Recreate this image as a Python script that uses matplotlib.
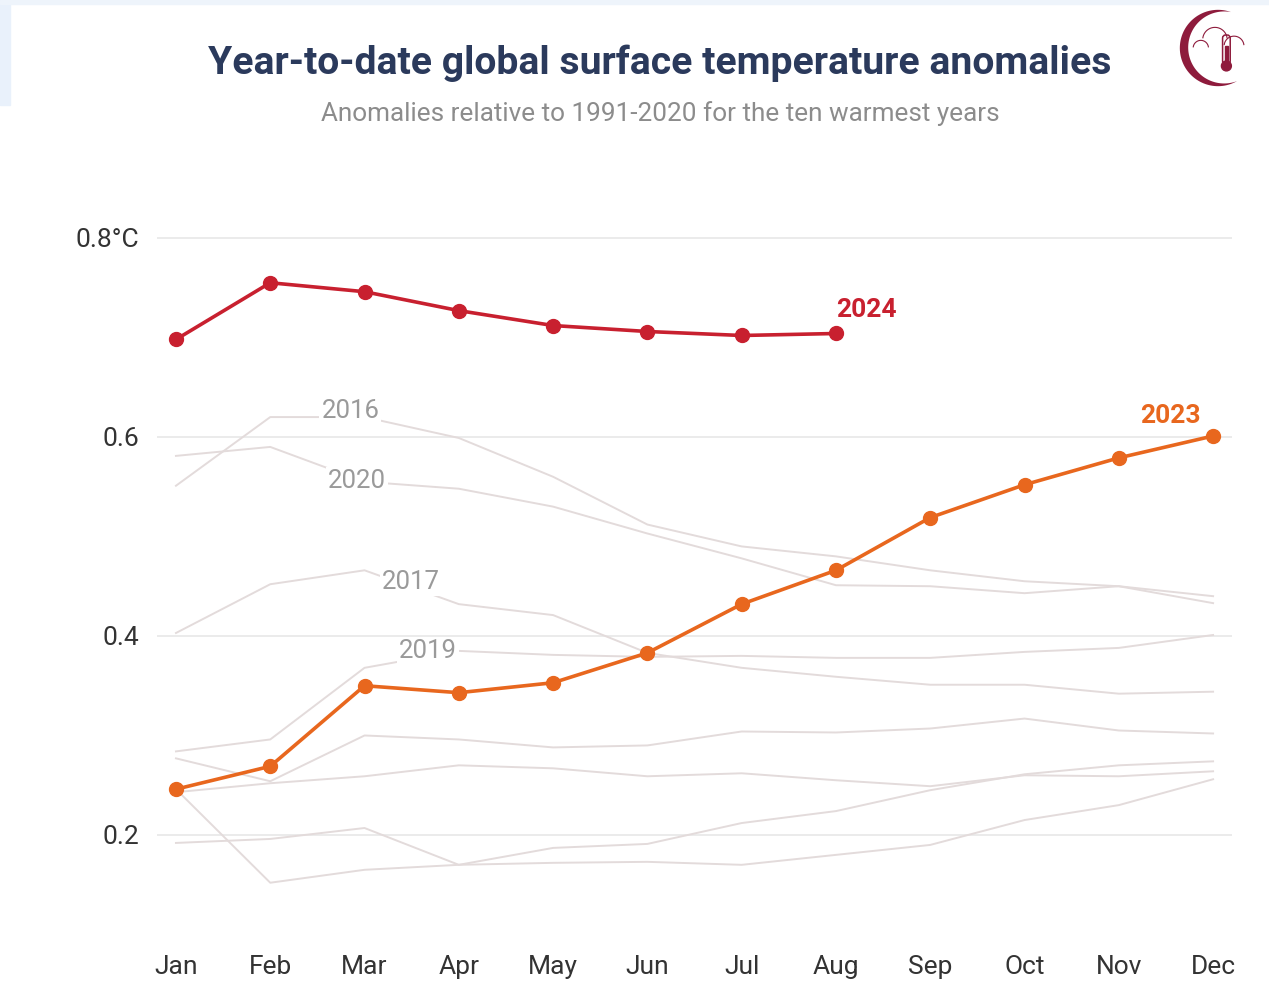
import numpy as np
import matplotlib.pyplot as plt
from matplotlib.patches import Polygon, Circle, FancyBboxPatch, Rectangle

# months and monthly year-to-date anomalies (degC, vs 1991-2020)
months = ["Jan", "Feb", "Mar", "Apr", "May", "Jun",
          "Jul", "Aug", "Sep", "Oct", "Nov", "Dec"]

y2024 = [0.698, 0.755, 0.746, 0.727, 0.712, 0.706, 0.702, 0.704]
y2023 = [0.246, 0.269, 0.350, 0.343, 0.353, 0.383,
         0.432, 0.466, 0.519, 0.552, 0.579, 0.601]

y2016 = [0.551, 0.620, 0.620, 0.599, 0.560, 0.512,
         0.490, 0.480, 0.466, 0.455, 0.450, 0.440]
y2020 = [0.581, 0.590, 0.555, 0.548, 0.530, 0.503,
         0.478, 0.451, 0.450, 0.443, 0.450, 0.433]
y2017 = [0.403, 0.452, 0.466, 0.432, 0.421, 0.383,
         0.368, 0.359, 0.351, 0.351, 0.342, 0.344]
y2019 = [0.284, 0.296, 0.368, 0.385, 0.381, 0.379,
         0.380, 0.378, 0.378, 0.384, 0.388, 0.401]
# remaining warm years, unlabelled
other_a = [0.277, 0.254, 0.300, 0.296, 0.288, 0.290,
           0.304, 0.303, 0.307, 0.317, 0.305, 0.302]
other_b = [0.243, 0.252, 0.259, 0.270, 0.267, 0.259,
           0.262, 0.255, 0.249, 0.260, 0.259, 0.264]
other_c = [0.192, 0.196, 0.207, 0.170, 0.187, 0.191,
           0.212, 0.224, 0.245, 0.261, 0.270, 0.274]
other_d = [0.246, 0.152, 0.165, 0.170, 0.172, 0.173,
           0.170, 0.180, 0.190, 0.215, 0.230, 0.256]

grey_years = [y2016, y2020, y2017, y2019, other_a, other_b, other_c, other_d]
grey_labels = {"2016": (1.85, 0.626), "2020": (1.92, 0.556),
               "2017": (2.49, 0.454), "2019": (2.67, 0.385)}

yticks = [0.2, 0.4, 0.6, 0.8]
ytick_labels = ["0.2", "0.4", "0.6", "0.8°C"]

FONT = ["Roboto", "DejaVu Sans"]
RED = "#c8202f"
ORANGE = "#e8671e"
GREY = "#e3dbdb"

fig = plt.figure(figsize=(12.69, 9.85), dpi=100)
fig.patch.set_facecolor("white")

# faint blue frame left over at the screenshot edge
fig.patches.append(Rectangle((0, 1 - 105 / 985), 10 / 1269, 105 / 985,
                             transform=fig.transFigure, color="#e9f1fb", zorder=0))
fig.patches.append(Rectangle((0, 1 - 4 / 985), 1, 4 / 985,
                             transform=fig.transFigure, color="#eef4fb", zorder=0))

ax = fig.add_axes([0.1238, 0.0715, 0.847, 0.7071])
x = np.arange(len(months))

for g in grey_years:
    ax.plot(x, g, color=GREY, lw=1.4, zorder=1)

for name, (lx, ly) in grey_labels.items():
    ax.text(lx, ly, name, color="#9a9a9a", fontsize=18.5, family=FONT,
            ha="center", va="center", zorder=2,
            bbox=dict(facecolor="white", edgecolor="none", pad=1.5))

ax.plot(x, y2023, color=ORANGE, lw=2.6, marker="o", ms=10, zorder=4)
ax.plot(x[:len(y2024)], y2024, color=RED, lw=2.6, marker="o", ms=10, zorder=4)

ax.text(len(y2024) - 1, y2024[-1] + 0.024, "2024", color=RED, fontsize=19,
        fontweight="bold", family=FONT, ha="left", va="center")
ax.text(len(y2023) - 1 - 0.13, y2023[-1] + 0.020, "2023", color=ORANGE, fontsize=19,
        fontweight="bold", family=FONT, ha="right", va="center")

ax.set_xlim(-0.2, 11.2)
ax.set_ylim(0.12, 0.82)
ax.set_yticks(yticks)
ax.set_yticklabels(ytick_labels)
ax.set_xticks(x)
ax.set_xticklabels(months)
ax.grid(axis="y", color="#e8e8e8", lw=1.2)
ax.set_axisbelow(True)
for s in ax.spines.values():
    s.set_visible(False)
ax.tick_params(axis="both", length=0, labelsize=19, labelcolor="#333333")
ax.tick_params(axis="x", pad=29)
ax.tick_params(axis="y", pad=13)
for lab in ax.get_xticklabels() + ax.get_yticklabels():
    lab.set_family(FONT)

fig.text(0.520, 0.936, "Year-to-date global surface temperature anomalies",
         ha="center", va="center", fontsize=28.2, fontweight="bold",
         color="#2b3a5c", family=FONT)
fig.text(0.520, 0.885, "Anomalies relative to 1991-2020 for the ten warmest years",
         ha="center", va="center", fontsize=18.8, color="#8c8c8c", family=FONT)

# small logo: crescent, cloud and thermometer
lg = fig.add_axes([1176 / 1269, 1 - 90 / 985, 84 / 1269, 84 / 985])
lg.set_xlim(-1.1, 1.1)
lg.set_ylim(-1.1, 1.1)
lg.set_aspect("equal")
lg.axis("off")
LOGO = "#8e1b3c"
c, r2, rot = 0.163, 0.943, np.deg2rad(5)
xi = (1 + c ** 2 - r2 ** 2) / (2 * c)
a0 = np.arccos(xi)
t_out = np.linspace(a0, 2 * np.pi - a0, 80)
outer = np.c_[np.cos(t_out), np.sin(t_out)]
b0 = np.arctan2(np.sin(a0), np.cos(a0) - c)
t_in = np.linspace(2 * np.pi - b0, b0, 80)
inner = np.c_[c + r2 * np.cos(t_in), r2 * np.sin(t_in)]
pts = np.vstack([outer, inner])
R = np.array([[np.cos(rot), -np.sin(rot)], [np.sin(rot), np.cos(rot)]])
lg.add_patch(Polygon(pts @ R.T, closed=True, color=LOGO, lw=0))
# cloud outline
tc = np.linspace(0.15, np.pi - 0.15, 40)
for cx, cy, rr in [(-0.45, 0.0, 0.2), (-0.08, 0.22, 0.32), (0.42, 0.05, 0.26)]:
    lg.plot(cx + rr * np.cos(tc), cy + rr * np.sin(tc), color=LOGO, lw=0.8)
# thermometer
lg.add_patch(FancyBboxPatch((0.14, -0.4), 0.16, 0.72,
                            boxstyle="round,pad=0.02,rounding_size=0.08",
                            fc="white", ec=LOGO, lw=1.1))
lg.add_patch(Rectangle((0.19, -0.4), 0.06, 0.46, color=LOGO))
lg.add_patch(Circle((0.22, -0.47), 0.13, color=LOGO))

fig.savefig("out.png", dpi=100)
